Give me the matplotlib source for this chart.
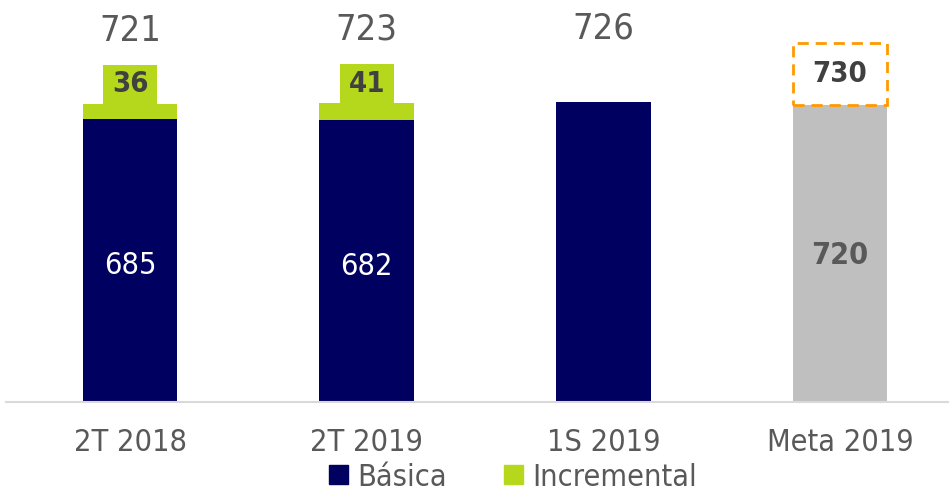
import matplotlib.pyplot as plt
from matplotlib.patches import Rectangle, Patch

# data
categories = ["2T 2018", "2T 2019", "1S 2019", "Meta 2019"]
basica = [685, 682, 726, 0]
incremental = [36, 41, 0, 0]
meta_base = [0, 0, 0, 720]
totals = [721, 723, 726, 730]

plt.rcParams["font.family"] = ["DejaVu Sans"]
plt.rcParams["font.stretch"] = "condensed"

navy = "#000060"
green = "#B5D81C"
grey = "#BFBFBF"
orange = "#FF9900"

fig = plt.figure(figsize=(9.49, 4.92), dpi=100)
ax = fig.add_axes([6 / 949, 90 / 492, 943 / 949, 402 / 492])

x = range(len(categories))
w = 0.40
ax.bar(x, basica, width=w, color=navy)
ax.bar(x, incremental, width=w, bottom=basica, color=green)
ax.bar(x, meta_base, width=w, color=grey)

# labels inside the bars (only for the stacked ones)
for i in x:
    if incremental[i]:
        ax.text(i, basica[i] / 2 - 12, str(basica[i]), ha="center", va="center",
                color="white", fontsize=22)
    if meta_base[i]:
        ax.text(i, meta_base[i] / 2 - 5, str(meta_base[i]), ha="center", va="center",
                color="#595959", fontsize=22, fontweight="bold")

# green label boxes on top of incremental segment
box_w, box_h = 0.23, 95
for i in x:
    if incremental[i]:
        top = basica[i] + incremental[i]
        ax.add_patch(Rectangle((i - box_w / 2, top), box_w, box_h, color=green, lw=0))
        ax.text(i, top + box_h / 2, str(incremental[i]), ha="center", va="center",
                color="#404040", fontsize=21, fontweight="bold")

# dashed target box
for i in x:
    if meta_base[i]:
        ax.add_patch(Rectangle((i - w / 2, meta_base[i]), w, 150, fill=False,
                               edgecolor=orange, lw=2, linestyle=(0, (4, 2.5))))
        ax.text(i, meta_base[i] + 75, str(totals[i]), ha="center", va="center",
                color="#404040", fontsize=21, fontweight="bold")

# totals on top
for i in x:
    if not meta_base[i]:
        ax.text(i, totals[i] + 178, str(totals[i]), ha="center", va="center",
                color="#595959", fontsize=26)

ax.set_xlim(-0.524, 3.46)
ax.set_ylim(0, 973)
ax.set_xticks(list(x))
ax.set_xticklabels(categories, fontsize=22, color="#595959")
ax.tick_params(axis="x", length=0, pad=19)
ax.set_yticks([])
for s in ["top", "right", "left"]:
    ax.spines[s].set_visible(False)
ax.spines["bottom"].set_color("#D9D9D9")
ax.spines["bottom"].set_linewidth(1.5)

handles = [Patch(color=navy, label="Básica"), Patch(color=green, label="Incremental")]
fig.legend(handles=handles, loc="center", bbox_to_anchor=(513 / 949, 1 - 477 / 492),
           ncol=2, frameon=False, fontsize=22, handlelength=0.6, handleheight=0.6,
           handletextpad=0.3, columnspacing=1.9, labelcolor="#595959")

fig.savefig("out.png", dpi=100)
